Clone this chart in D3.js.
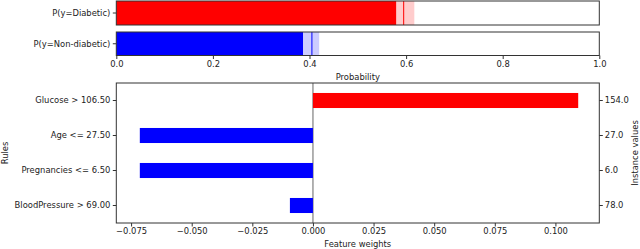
<!DOCTYPE html>
<html>
<head>
<meta charset="utf-8">
<script src="https://cdn.jsdelivr.net/npm/d3@7"></script>
<style>
  body { margin: 0; background: #fff; }
  svg text { font-family: "DejaVu Sans", sans-serif; font-size: 8.4px; fill: #222; }
</style>
</head>
<body>
<svg id="chart" width="640" height="249"></svg>
<script>
// class probabilities (top panel)
var probClasses = ["P(y=Diabetic)", "P(y=Non-diabetic)"];
var probMean = [0.595, 0.405];
var probLow = [0.580, 0.387];
var probHigh = [0.617, 0.420];
var probColors = ["#ff0000", "#0000ff"];
var probLight = ["#ffcccc", "#ccccff"];
var probTicks = [0, 0.2, 0.4, 0.6, 0.8, 1.0];

// rule weights (bottom panel)
var rules = ["Glucose > 106.50", "Age <= 27.50", "Pregnancies <= 6.50", "BloodPressure > 69.00"];
var weights = [0.1094, -0.0714, -0.0714, -0.0095];
var instanceValues = ["154.0", "27.0", "6.0", "78.0"];
var weightTicks = [-0.075, -0.05, -0.025, 0, 0.025, 0.05, 0.075, 0.1];

var svg = d3.select("#chart");
var left = 116.3, right = 599.3;

//----- top: probabilities
var xp = d3.scaleLinear().domain([0, 1]).range([left, right]);
var panels = [[1, 25], [32, 55.5]];

probClasses.forEach(function(c, i){
	var y0 = panels[i][0], y1 = panels[i][1];
	var g = svg.append("g");
	g.append("rect")
		.attr("x", xp(0)).attr("y", y0)
		.attr("width", xp(probLow[i]) - xp(0)).attr("height", y1 - y0)
		.attr("fill", probColors[i]);
	g.append("rect")
		.attr("x", xp(probLow[i])).attr("y", y0)
		.attr("width", xp(probHigh[i]) - xp(probLow[i])).attr("height", y1 - y0)
		.attr("fill", probLight[i]);
	g.append("line")
		.attr("x1", xp(probMean[i])).attr("x2", xp(probMean[i]))
		.attr("y1", y0).attr("y2", y1)
		.attr("stroke", probColors[i]).attr("stroke-width", 1);
	// frame
	g.append("rect")
		.attr("x", xp(0)).attr("y", y0)
		.attr("width", xp(1) - xp(0)).attr("height", y1 - y0)
		.attr("fill", "none").attr("stroke", "#333").attr("stroke-width", 1);
	//label with tick
	var yc = (y0 + y1) / 2;
	g.append("line").attr("x1", left - 3.5).attr("x2", left).attr("y1", yc).attr("y2", yc).attr("stroke", "#333");
	g.append("text").attr("x", left - 6).attr("y", yc).attr("dy", "0.35em")
		.attr("text-anchor", "end").text(c);
});

var xpAxis = svg.append("g")
	.attr("transform", "translate(0," + panels[1][1] + ")")
	.call(d3.axisBottom(xp).tickValues(probTicks).tickFormat(d3.format(".1f")).tickSize(3.5).tickPadding(2));
xpAxis.select(".domain").remove();
xpAxis.selectAll("line").attr("stroke", "#333");
xpAxis.selectAll("text").style("font-size", "8.4px").style("font-family", "DejaVu Sans").attr("fill", "#222");

svg.append("text").attr("x", (left + right) / 2).attr("y", 80)
	.attr("text-anchor", "middle").text("Probability");

//----- bottom: feature weights
var top2 = 83, bottom2 = 223;
var xw = d3.scaleLinear().domain([-0.0811, 0.1181]).range([left, right]);
var yw = d3.scaleBand().domain(rules).range([top2, bottom2]).paddingInner(0.57).paddingOuter(0.285);

svg.append("line")
	.attr("x1", xw(0)).attr("x2", xw(0)).attr("y1", top2).attr("y2", bottom2)
	.attr("stroke", "#999").attr("stroke-width", 1.5);

svg.append("g").selectAll("rect")
	.data(rules)
	.enter().append("rect")
	.attr("x", function(d, i){ return xw(Math.min(0, weights[i])); })
	.attr("y", function(d){ return yw(d); })
	.attr("width", function(d, i){ return Math.abs(xw(weights[i]) - xw(0)); })
	.attr("height", yw.bandwidth())
	.attr("fill", function(d, i){ return weights[i] > 0 ? "#ff0000" : "#0000ff"; });

svg.append("rect")
	.attr("x", left).attr("y", top2).attr("width", right - left).attr("height", bottom2 - top2)
	.attr("fill", "none").attr("stroke", "#333").attr("stroke-width", 1);

var xwAxis = svg.append("g")
	.attr("transform", "translate(0," + bottom2 + ")")
	.call(d3.axisBottom(xw).tickValues(weightTicks).tickFormat(d3.format(".3f")).tickSize(3.5).tickPadding(2));
xwAxis.select(".domain").remove();

var ylAxis = svg.append("g")
	.attr("transform", "translate(" + left + ",0)")
	.call(d3.axisLeft(yw).tickSize(3.5).tickPadding(2.5));
ylAxis.select(".domain").remove();

var yrAxis = svg.append("g")
	.attr("transform", "translate(" + right + ",0)")
	.call(d3.axisRight(yw).tickSize(3.5).tickPadding(2)
		.tickFormat(function(d){ return instanceValues[rules.indexOf(d)]; }));
yrAxis.select(".domain").remove();

[xwAxis, ylAxis, yrAxis].forEach(function(a){
	a.selectAll("line").attr("stroke", "#333");
	a.selectAll("text").style("font-size", "8.4px").style("font-family", "DejaVu Sans").attr("fill", "#222");
});

svg.append("text").attr("x", (left + right) / 2).attr("y", 247)
	.attr("text-anchor", "middle").text("Feature weights");

svg.append("text")
	.attr("transform", "translate(8," + (top2 + bottom2) / 2 + ") rotate(-90)")
	.attr("text-anchor", "middle").text("Rules");

svg.append("text")
	.attr("transform", "translate(637.5," + (top2 + bottom2) / 2 + ") rotate(-90)")
	.attr("text-anchor", "middle").text("Instance values");
</script>
</body>
</html>
